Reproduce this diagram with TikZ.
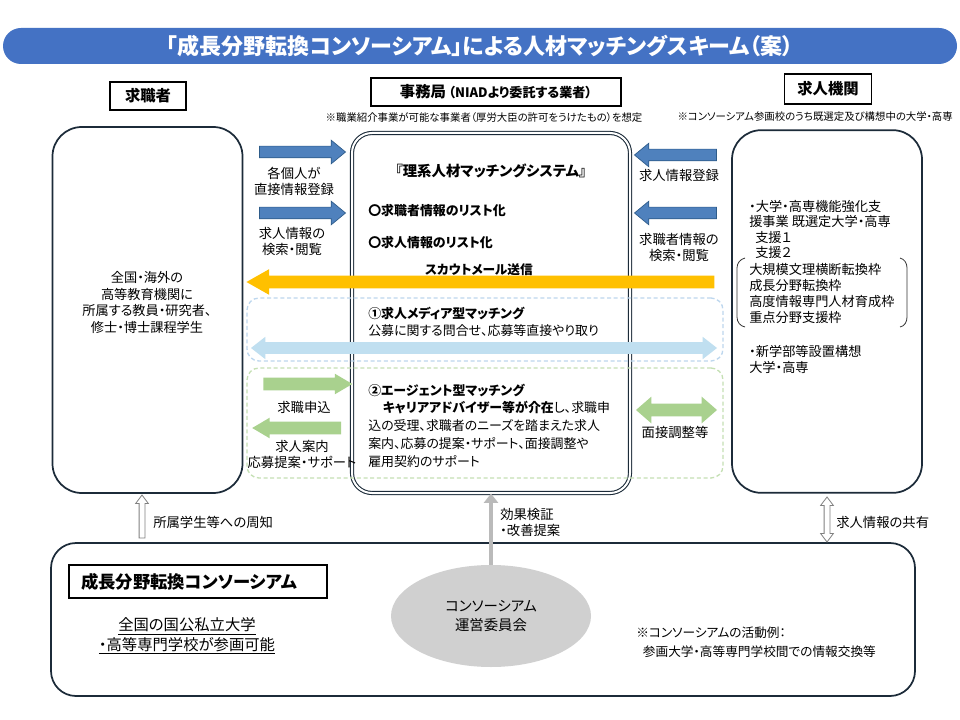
\documentclass[tikz,border=0pt]{standalone}
\usepackage{fontspec}
\setmainfont{Noto Sans CJK JP}[RawFeature=+palt]
\usepackage{tikz}
\usetikzlibrary{positioning,arrows.meta,shapes.arrows,shapes.geometric,calc}
\definecolor{titleblue}{HTML}{4472C4}
\definecolor{boxline}{HTML}{1C2B39}
\definecolor{regblue}{HTML}{4F81BD}
\definecolor{regedge}{HTML}{2E5C8A}
\definecolor{scoutgold}{HTML}{FFC000}
\definecolor{medialine}{HTML}{BDD7EE}
\definecolor{mediafill}{HTML}{C0DFF0}
\definecolor{agentgreen}{HTML}{A9D18E}
\definecolor{agentline}{HTML}{C5E0B4}
\definecolor{cmtgray}{HTML}{D0D0D0}
\definecolor{hollowedge}{HTML}{808080}
\newcommand{\fsz}[2]{\fontsize{#1}{#2}\selectfont}

\begin{document}
\begin{tikzpicture}[
    x=0.75pt, y=-0.75pt,
    every node/.style={inner sep=0pt},
    bigbox/.style={draw=boxline, line width=1.3pt, rounded corners=22pt},
    headbox/.style={draw=black, line width=0.8pt, fill=white},
    dashbox/.style={dash pattern=on 3pt off 2pt, line width=1pt, rounded corners=9pt},
    note/.style={font=\fsz{7.8pt}{9pt}},
    lbl/.style={font=\fsz{10pt}{12pt}, align=center},
    body/.style={align=left, anchor=west},
    regarr/.style={single arrow, fill=regblue, draw=regedge, line width=0.5pt,
        text height=8.25pt, text depth=0pt, single arrow head extend=4.5pt,
        single arrow tip angle=79},
    greenarr/.style={single arrow, fill=agentgreen, text height=9pt, text depth=0pt,
        single arrow head extend=3pt, single arrow tip angle=61, minimum height=66.75pt},
    hollowarr/.style={draw=hollowedge, fill=white, line width=0.6pt, rotate=90,
        text height=3.75pt, text depth=0pt},
    bracket/.style={line width=0.6pt, draw=black!80},
]
\fill[white] (0,0) rectangle (960,720);
\useasboundingbox (0,0) rectangle (960,720);

% title
\node[fill=titleblue, rounded corners=13.5pt, minimum width=715.5pt, minimum height=27pt,
      text=white, font=\fsz{16.5pt}{18pt}\bfseries] (title) at (480,46)
    {「成長分野転換コンソーシアム」による人材マッチングスキーム（案）};

% headers
\node[headbox, minimum width=57pt, minimum height=21pt, font=\fsz{11.5pt}{13pt}\bfseries]
    (seekerhd) at (148,96) {求職者};
\node[headbox, minimum width=187.5pt, minimum height=21pt, font=\fsz{11.5pt}{13pt}\bfseries]
    (officehd) at (496,92) {事務局\,{\fsz{9.8pt}{11pt}（NIADより委託する業者）}};
\node[headbox, minimum width=65pt, minimum height=22.5pt, font=\fsz{11.5pt}{13pt}\bfseries]
    (employerhd) at (828,89) {求人機関};
\node[note] (officenote) at (484,118)
    {※職業紹介事業が可能な事業者（厚労大臣の許可をうけたもの）を想定};
\node[note, anchor=east] (employernote) at (953,117)
    {※コンソーシアム参画校のうち既選定及び構想中の大学・高専};

% main boxes
\node[bigbox, minimum width=142.5pt, minimum height=274.5pt] (seeker) at (147.5,310) {};
\node[draw=boxline, line width=0.8pt, double=white, double distance=1.5pt, rounded corners=15pt,
      minimum width=208.5pt, minimum height=270pt] (sys) at (491,313) {};
\node[bigbox, minimum width=142.5pt, minimum height=272pt] (employer) at (827,311.5) {};

% matching areas
\node[dashbox, draw=medialine, minimum width=357pt, minimum height=47.25pt] (mediabox) at (485,329.5) {};
\node[dashbox, draw=agentline, minimum width=357pt, minimum height=82.5pt] (agentbox) at (485,423) {};

% seeker side
\node[font=\fsz{9.9pt}{12.6pt}, align=center] (seekertxt) at (147,302.5)
    {全国・海外の\\高等教育機関に\\所属する教員・研究者、\\修士・博士課程学生};

% system
\node[font=\fsz{10.8pt}{12pt}\bfseries] (systitle) at (491,171) {『理系人材マッチングシステム』};
\node[body, font=\fsz{9.7pt}{12pt}\bfseries] (seekerlist) at (368,211) {〇求職者情報のリスト化};
\node[body, font=\fsz{9.7pt}{12pt}\bfseries] (joblist) at (368,243) {〇求人情報のリスト化};

% employer side
\node[body, font=\fsz{9.9pt}{11.5pt}] (support) at (749,229.5)
    {・大学・高専機能強化支\\援事業 既選定大学・高専\\\hspace*{4.5pt}支援１\\\hspace*{4.5pt}支援２};
\node[body, font=\fsz{9.9pt}{12.2pt}] (frames) at (749,293.5)
    {大規模文理横断転換枠\\成長分野転換枠\\高度情報専門人材育成枠\\重点分野支援枠};
\node[body, font=\fsz{9.9pt}{11.3pt}] (newfac) at (749,359.5) {・新学部等設置構想\\大学・高専};
\draw[bracket] (745,258) to[out=195,in=90] (737,268) -- (737,317) to[out=-90,in=170] (745,327);
\draw[bracket] (900,258) to[out=-15,in=90] (907,268) -- (907,317) to[out=-90,in=10] (900,327);

% registration arrows
\node[regarr, minimum height=64.5pt] (regself) at (299,152) {};
\node[regarr, minimum height=64.5pt] (regview) at (299,213) {};
\node[regarr, minimum height=61.5pt, rotate=180] (regjob) at (679,155) {};
\node[regarr, minimum height=61.5pt, rotate=180] (viewseeker) at (679,213) {};
\node[lbl] (regselflbl) at (294,181) {各個人が\\直接情報登録};
\node[lbl] (regviewlbl) at (292,241) {求人情報の\\検索・閲覧};
\node[lbl] (regjoblbl) at (679,175) {求人情報登録};
\node[lbl] (viewseekerlbl) at (679,247) {求職者情報の\\検索・閲覧};

% scout mail
\node[single arrow, fill=scoutgold, text height=9pt, text depth=0pt, minimum height=351pt,
      single arrow head extend=4.9pt, single arrow tip angle=59, rotate=180] (scout) at (486,282) {};
\node[font=\fsz{9.5pt}{12pt}\bfseries] (scoutlbl) at (479,270) {スカウトメール送信};

% (1) media matching
\node[double arrow, fill=mediafill, text height=8.25pt, text depth=0pt, minimum height=349.5pt,
      double arrow head extend=4.1pt, double arrow tip angle=76] (mediaarr) at (484,348) {};
\node[body, font=\fsz{9.7pt}{13pt}] (mediatxt) at (368,322)
    {\textbf{①求人メディア型マッチング}\\公募に関する問合せ、応募等直接やり取り};

% (2) agent matching
\node[greenarr] (applyarr) at (302.5,384) {};
\node[lbl] (applylbl) at (304,407) {求職申込};
\node[greenarr, rotate=180] (guidearr) at (302,428) {};
\node[lbl] (guidelbl) at (302,454) {求人案内\\応募提案・サポート};
\node[double arrow, fill=agentgreen, text height=9pt, text depth=0pt, minimum height=60.75pt,
      double arrow head extend=5.25pt, double arrow tip angle=82] (interviewarr) at (676.5,410) {};
\node[lbl] (interviewlbl) at (675,432) {面接調整等};
\node[body, font=\fsz{9.7pt}{13.3pt}] (agenttxt) at (368,425.5)
    {\textbf{②エージェント型マッチング}\\
     \hspace*{11pt}\textbf{キャリアアドバイザー等が介在}し、求職申\\
     込の受理、求職者のニーズを踏まえた求人\\
     案内、応募の提案・サポート、面接調整や\\
     雇用契約のサポート};

% consortium
\node[bigbox, rounded corners=18.75pt, minimum width=648pt, minimum height=114.75pt] (consort) at (483,619.5) {};
\node[headbox, minimum width=193.5pt, minimum height=24.75pt, text width=175.5pt, align=left,
      font=\fsz{13pt}{14pt}\bfseries] (consorthd) at (198,581.5) {成長分野転換コンソーシアム};
\node[font=\fsz{11.5pt}{14.5pt}, align=center] (memb) at (187,636)
    {\underline{全国の国公私立大学}\\\underline{・高等専門学校が参画可能}};
\node[ellipse, fill=cmtgray, minimum width=150pt, minimum height=76.5pt,
      font=\fsz{10.8pt}{14.25pt}, align=center] (committee) at (491,616) {コンソーシアム\\運営委員会};
\node[body, font=\fsz{9.5pt}{14pt}] (actnote) at (636,642.5)
    {※コンソーシアムの活動例：\\\hspace*{5pt}参画大学・高等専門学校間での情報交換等};

% links to consortium
\node[single arrow, hollowarr, minimum height=32.25pt, single arrow head extend=2.6pt,
      single arrow tip angle=74] (notifyarr) at (142,518.5) {};
\node[lbl, anchor=west] (notifylbl) at (153,522) {所属学生等への周知};
\draw[line width=3.6pt, draw=black!27, -{Triangle[length=7pt,width=10.5pt]}]
    (committee.north) -- (committee.north |- sys.south);
\node[lbl, anchor=west, align=left] (evallbl) at (500,522) {効果検証\\・改善提案};
\node[double arrow, hollowarr, minimum height=33.75pt, double arrow head extend=2.6pt,
      double arrow tip angle=74] (sharearr) at (827,519.5) {};
\node[lbl, anchor=west] (sharelbl) at (836,522) {求人情報の共有};

\end{tikzpicture}
\end{document}
